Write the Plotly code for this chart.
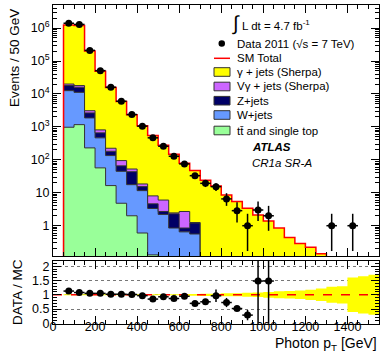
import numpy as np
import plotly.graph_objects as go

# MC histograms, bins 50..1300 GeV (50 GeV wide)
edges = list(range(50, 1301, 50))
ttbar = [975, 1170, 230, 57, 16.5, 4.8, 2.0, 0.6, 0.13, 0, 0, 0, 0,
         0, 0, 0, 0, 0, 0, 0, 0, 0, 0, 0, 0]
wjets = [11600, 10000, 1640, 408, 118, 40, 15.6, 11.0, 3.2, 2.2, 0.85, 0.65, 0.56,
         0, 0, 0, 0, 0, 0, 0, 0, 0, 0, 0, 0]
zjets = [5400, 4800, 780, 195, 47, 21, 26, 3.8, 1.3, 0.5, 1.45, 0.2, 0.64,
         0, 0, 0, 0, 0, 0, 0, 0, 0, 0, 0, 0]
vgamma = [2000, 2000, 450, 150, 43, 29, 9, 3.1, 3.4, 3.3, 0.15, 1.85, 0.05,
          0, 0, 0, 0, 0, 0, 0, 0, 0, 0, 0, 0]
gjets = [1220000, 1172000, 197000, 47800, 15500, 5800, 2300, 1060, 540, 271, 145, 76, 46,
         24, 16, 8.6, 5.4, 3.4, 2.1, 1.4, 0.85, 0.44, 0.29, 0.22, 0.14]

# data
data_x = [75, 125, 175, 225, 275, 325, 375, 425, 475, 525, 575, 625, 675,
          725, 775, 825, 875, 925, 975, 1025, 1325, 1425]
data_y = [1.4e6, 1.29e6, 2.1e5, 5.1e4, 1.6e4, 6000, 2370, 1050, 465, 258, 128, 75, 33,
          19.3, 15.3, 6.5, 2.86, 1.0, 3.0, 2.0, 1.0, 1.0]
data_up = [1200, 1100, 460, 230, 130, 80, 50, 33, 22, 16, 11, 9, 6,
           4.5, 4, 3.2, 2.3, 1.3, 2.4, 2.0, 1.3, 1.3]
data_dn = [1200, 1100, 460, 230, 130, 80, 50, 33, 22, 16, 11, 9, 6,
           4.4, 3.9, 2.5, 1.6, 0.83, 1.6, 1.3, 0.83, 0.83]

# ratio panel
ratio_x = [75, 125, 175, 225, 275, 325, 375, 425, 475, 525, 575, 625, 675,
           725, 775, 825, 875, 925, 975, 1025]
ratio_y = [1.13, 1.08, 1.05, 1.05, 1.02, 1.02, 1.01, 0.97, 0.85, 0.93, 0.87, 0.95, 0.70,
           0.755, 0.965, 0.73, 0.52, 0.29, 1.48, 1.48]
ratio_up = [0.02, 0.02, 0.02, 0.02, 0.02, 0.02, 0.03, 0.03, 0.04, 0.05, 0.05, 0.06, 0.06,
            0.07, 0.22, 0.16, 0.06, 0.18, 1.8, 1.8]
ratio_dn = [0.02, 0.02, 0.02, 0.02, 0.02, 0.02, 0.03, 0.03, 0.04, 0.05, 0.05, 0.06, 0.06,
            0.07, 0.22, 0.16, 0.06, 0.18, 1.48, 1.48]
band_edges = list(range(50, 1551, 50))
mc_unc = [0.02, 0.02, 0.02, 0.02, 0.02, 0.02, 0.02, 0.02, 0.02, 0.02, 0.02, 0.03, 0.03,
          0.04, 0.04, 0.05, 0.05, 0.07, 0.08, 0.10, 0.12, 0.13, 0.15, 0.18, 0.22,
          0.28, 0.30, 0.60, 0.65, 0.70]

W, H = 385, 356
L, R, T, B = 53, 6, 5, 32
FONT = "Liberation Sans"


def px(x):
    return (x - L) / (W - L - R)


def py(y):
    return (H - B - y) / (H - T - B)


FLOOR = 1e-3
xs = [edges[0]] + edges + [edges[-1]]


def step_y(vals):
    v = [max(a, FLOOR) for a in vals]
    return [FLOOR] + v + [v[-1], FLOOR]


fig = go.Figure()
fig.add_trace(go.Scatter(x=xs, y=[FLOOR] * len(xs), mode="lines",
                         line=dict(width=0), hoverinfo="skip"))

stack = [(ttbar, "#99ff99", "#333333", 1),
         (wjets, "#6699ff", "#333333", 1),
         (zjets, "#000066", "#333333", 1),
         (vgamma, "#cc66ff", "#333333", 1),
         (gjets, "#ffff00", "red", 1.5)]
cum = np.zeros(len(ttbar))
for vals, fc, lc, lw in stack:
    cum = cum + np.array(vals)
    fig.add_trace(go.Scatter(x=xs, y=step_y(list(cum)), mode="lines",
                             line=dict(shape="hv", color=lc, width=lw),
                             fill="tonexty", fillcolor=fc, hoverinfo="skip"))

fig.add_trace(go.Scatter(
    x=data_x, y=data_y, mode="markers",
    marker=dict(color="black", size=7),
    error_y=dict(type="data", array=data_up, arrayminus=data_dn, color="black",
                 thickness=1.5, width=0),
    error_x=dict(type="constant", value=25, color="black", thickness=1.5, width=0)))

# ratio panel
bx = band_edges
lo = [1 - u for u in mc_unc]
hi = [1 + u for u in mc_unc]
fig.add_trace(go.Scatter(x=bx, y=lo + [lo[-1]], mode="lines", line=dict(shape="hv", width=0),
                         xaxis="x2", yaxis="y2", hoverinfo="skip"))
fig.add_trace(go.Scatter(x=bx, y=hi + [hi[-1]], mode="lines", line=dict(shape="hv", width=0),
                         fill="tonexty", fillcolor="#ffff00", xaxis="x2", yaxis="y2",
                         hoverinfo="skip"))
fig.add_trace(go.Scatter(x=[0, 1550], y=[1, 1], mode="lines",
                         line=dict(color="red", dash="dash", width=1.5),
                         xaxis="x2", yaxis="y2"))
fig.add_trace(go.Scatter(
    x=ratio_x, y=ratio_y, mode="markers", xaxis="x2", yaxis="y2",
    marker=dict(color="black", size=7),
    error_y=dict(type="data", array=ratio_up, arrayminus=ratio_dn, color="black",
                 thickness=1.5, width=0),
    error_x=dict(type="constant", value=25, color="black", thickness=1.5, width=0)))

minor_log = [m * 10 ** d for d in range(-1, 7) for m in range(2, 10)]
frame = dict(showline=True, linecolor="black", linewidth=1, mirror="allticks",
             ticks="inside", tickcolor="black", zeroline=False, automargin=False,
             tickfont=dict(family=FONT, size=12.5, color="black"))

fig.update_layout(
    width=W, height=H, margin=dict(l=L, r=R, t=T, b=B, autoexpand=False),
    plot_bgcolor="white", paper_bgcolor="white", showlegend=False,
    font=dict(family=FONT, size=13, color="black"),
    xaxis=dict(domain=[0, 1], anchor="y", range=[0, 1550], showticklabels=False,
               tick0=0, dtick=200, ticklen=8, showgrid=False,
               minor=dict(ticks="inside", dtick=50, ticklen=4, tickcolor="black"),
               **frame),
    yaxis=dict(domain=[py(256), 1], anchor="x", type="log", range=[-0.92, 6.70],
               tickvals=[1, 10, 100, 1e3, 1e4, 1e5, 1e6],
               ticktext=["1", "10", "10<sup>2</sup>", "10<sup>3</sup>", "10<sup>4</sup>",
                         "10<sup>5</sup>", "10<sup>6</sup>"],
               ticklen=8, showgrid=False,
               minor=dict(ticks="inside", tickvals=minor_log, ticklen=4, tickcolor="black"),
               **frame),
    xaxis2=dict(domain=[0, 1], anchor="y2", range=[0, 1550], tick0=0, dtick=200,
                ticklen=8, showgrid=False, ticklabelstandoff=-9,
                minor=dict(ticks="inside", dtick=50, ticklen=4, tickcolor="black"),
                **frame),
    yaxis2=dict(domain=[0, py(261)], anchor="x2", range=[-0.02, 2.18],
                tickvals=[0, 0.5, 1, 1.5, 2], ticktext=["0", "0.5", "1", "1.5", "2"],
                ticklen=8, showgrid=True, gridcolor="#777777", griddash="dot", gridwidth=1,
                minor=dict(ticks="inside", dtick=0.1, ticklen=4, tickcolor="black",
                           showgrid=False),
                **frame),
)

ann = []


def text(x, y, s, size=11.5, anchor="left", **kw):
    ann.append(dict(x=px(x), y=py(y), xref="paper", yref="paper", text=s, showarrow=False,
                    xanchor=anchor, yanchor="middle",
                    font=dict(family=FONT, size=size, color="black"), **kw))


text(15, 58, "Events / 50 GeV", size=13.5, anchor="center", textangle=-90)
text(17, 292, "DATA / MC", size=13.5, anchor="center", textangle=-90)
text(379, 344, "Photon p<sub>T</sub> [GeV]", size=14, anchor="right")

text(236, 24, "\u222b", size=20, anchor="center")
text(240, 25, "L dt = 4.7 fb<sup>-1</sup>")
text(235, 43.5, "Data 2011 (\u221as = 7 TeV)")
text(235, 58.3, "SM Total")
text(235, 72, "\u03b3 + jets (Sherpa)")
text(235, 86.5, "V\u03b3 + jets (Sherpa)")
text(235, 100.7, "Z+jets")
text(235, 115, "W+jets")
text(235, 130.5, "tt\u0304 and single top")
text(250, 146.7, "<b><i>ATLAS</i></b>")
text(250, 163.3, "<i>CR1a SR-A</i>")
fig.update_layout(annotations=ann)

shapes = [dict(type="circle", xref="paper", yref="paper",
               x0=px(218.5), x1=px(225), y0=py(46.8), y1=py(40.3),
               fillcolor="black", line=dict(color="black", width=0)),
          dict(type="line", xref="paper", yref="paper",
               x0=px(214), x1=px(230), y0=py(58.3), y1=py(58.3),
               line=dict(color="red", width=1.5))]
for yc, fc in [(72, "#ffff00"), (86.5, "#cc66ff"), (100.7, "#000066"),
               (115, "#6699ff"), (130.5, "#99ff99")]:
    shapes.append(dict(type="rect", xref="paper", yref="paper",
                       x0=px(214), x1=px(230), y0=py(yc + 4.3), y1=py(yc - 4.3),
                       fillcolor=fc, line=dict(color="#333333", width=1)))
fig.update_layout(shapes=shapes)

# the page body has a default 8px margin; remove it so the figure fills the window
fig.write_html("out.html", config={"displayModeBar": False},
               post_script="document.body.style.margin='0';")
